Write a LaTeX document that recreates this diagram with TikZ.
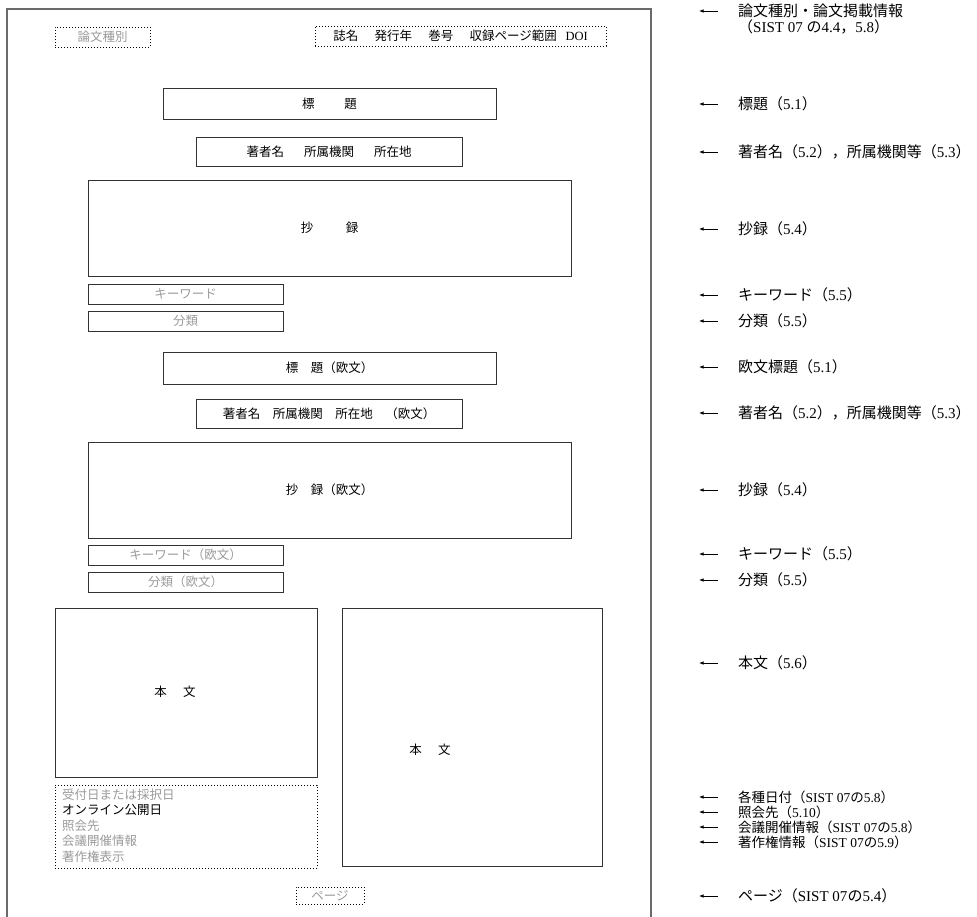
\documentclass[tikz,border=0pt]{standalone}
\usepackage{fontspec}
\setmainfont{Liberation Serif}
\newfontfamily\jp{Noto Sans CJK JP}
\usetikzlibrary{arrows.meta}
\newcommand\J[1]{{\jp #1}}
\definecolor{framec}{HTML}{6A6A6A}
\definecolor{boxc}{HTML}{333333}
\definecolor{graytxt}{HTML}{9A9A9A}
\tikzset{
  box/.style={draw=boxc, line width=0.9pt, inner sep=0pt, font=\fontsize{12.5}{14}\selectfont},
  dbox/.style={draw=black, dotted, line width=1pt, inner sep=0pt, font=\fontsize{12.5}{14}\selectfont},
  boxtext/.style={inner sep=0pt, font=\fontsize{12.5}{14}\selectfont},
  datetext/.style={anchor=west, inner sep=0pt, font=\fontsize{12.5}{14}\selectfont},
  lab/.style={anchor=west, inner sep=0pt, font=\fontsize{15}{15}\selectfont},
  smalllab/.style={lab, font=\fontsize{13.5}{14}\selectfont},
  arr/.style={-{Latex[length=4.5pt,width=3.5pt]}, line width=0.7pt},
  faint/.style={text=graytxt}
}
\begin{document}
\begin{tikzpicture}[x=1pt,y=-1pt]
\useasboundingbox (0,0) rectangle (977,916);
% page frame
\coordinate (fbl) at (7,918);
\coordinate (ftl) at (7,9);
\coordinate (ftr) at (651,9);
\coordinate (fbr) at (651,918);
\draw[framec, line width=1.3pt] (fbl) -- (ftl) -- (ftr) -- (fbr);

% boxes
\node[dbox, faint, minimum width=95pt, minimum height=20pt] (shubetsu) at (102.5,37) {\J{論文種別}};
\node[dbox, minimum width=291pt, minimum height=20pt] (doi) at (460.5,36) {\J{誌名\hspace{1.3em}発行年\hspace{1.3em}巻号\hspace{1.3em}収録ページ範囲}\hspace{0.7em}DOI};
\node[box, minimum width=333pt, minimum height=31pt] (title) at (329.5,103.5) {\J{標\hspace{2.4em}題}};
\node[box, minimum width=266pt, minimum height=29pt] (author) at (329,151.5) {\J{著者名\hspace{1.6em}所属機関\hspace{1.6em}所在地}};
\node[box, minimum width=483pt, minimum height=96pt] (abstract) at (329.5,228) {\J{抄\hspace{2.6em}録}};
\node[box, faint, minimum width=195pt, minimum height=20pt] (kw) at (185.5,294) {\J{キーワード}};
\node[box, faint, minimum width=195pt, minimum height=20pt] (cls) at (185.5,321) {\J{分類}};
\node[box, minimum width=333pt, minimum height=32pt] (etitle) at (329.5,368) {\J{標　題（欧文）}};
\node[box, minimum width=266pt, minimum height=29pt] (eauthor) at (329,413.5) {\J{著者名　所属機関　所在地　（欧文）}};
\node[box, minimum width=483pt, minimum height=96pt] (eabstract) at (329.5,490) {\J{抄　録（欧文）}};
\node[box, faint, minimum width=195pt, minimum height=20pt] (ekw) at (185.5,555) {\J{キーワード（欧文）}};
\node[box, faint, minimum width=195pt, minimum height=20pt] (ecls) at (185.5,582) {\J{分類（欧文）}};
\node[box, minimum width=262pt, minimum height=169pt] (body1) at (186,692.5) {};
\node[boxtext] (body1t) at (175,692) {\J{本\hspace{1.3em}文}};
\node[box, minimum width=260pt, minimum height=258pt] (body2) at (472,737) {};
\node[boxtext] (body2t) at (430,750) {\J{本\hspace{1.3em}文}};
\node[dbox, minimum width=262pt, minimum height=83pt] (dates) at (186,826.5) {};
\node[datetext, faint] (d1) at (62,795) {\J{受付日または採択日}};
\node[datetext] (d2) at (62,810) {\J{オンライン公開日}};
\node[datetext, faint] (d3) at (62,826) {\J{照会先}};
\node[datetext, faint] (d4) at (62,841) {\J{会議開催情報}};
\node[datetext, faint] (d5) at (62,857) {\J{著作権表示}};
\node[dbox, faint, minimum width=68pt, minimum height=17pt] (page) at (330,895.5) {\J{ページ}};

% right-hand labels
\node[lab] (l1) at (738,11) {\J{論文種別・論文掲載情報}};
\node[lab] (l1b) at (738,27) {\J{（}SIST 07 \J{の}4.4\J{，}5.8\J{）}};
\node[lab] (l2) at (738,104) {\J{標題（}5.1\J{）}};
\node[lab] (l3) at (738,152) {\J{著者名（}5.2\J{），所属機関等（}5.3\J{）}};
\node[lab] (l4) at (738,229) {\J{抄録（}5.4\J{）}};
\node[lab] (l5) at (738,295) {\J{キーワード（}5.5\J{）}};
\node[lab] (l6) at (738,321) {\J{分類（}5.5\J{）}};
\node[lab] (l7) at (738,367) {\J{欧文標題（}5.1\J{）}};
\node[lab] (l8) at (738,413) {\J{著者名（}5.2\J{），所属機関等（}5.3\J{）}};
\node[lab] (l9) at (738,490) {\J{抄録（}5.4\J{）}};
\node[lab] (l10) at (738,554) {\J{キーワード（}5.5\J{）}};
\node[lab] (l11) at (738,580) {\J{分類（}5.5\J{）}};
\node[lab] (l12) at (738,663) {\J{本文（}5.6\J{）}};
\node[smalllab] (l13) at (738,797) {\J{各種日付（}SIST 07\J{の}5.8\J{）}};
\node[smalllab] (l14) at (738,812) {\J{照会先（}5.10\J{）}};
\node[smalllab] (l15) at (738,827) {\J{会議開催情報（}SIST 07\J{の}5.8\J{）}};
\node[smalllab] (l16) at (738,842) {\J{著作権情報（}SIST 07\J{の}5.9\J{）}};
\node[lab] (l17) at (738,896) {\J{ページ（}SIST 07\J{の}5.4\J{）}};

\foreach \n in {l1,l2,l3,l4,l5,l6,l7,l8,l9,l10,l11,l12,l13,l14,l15,l16,l17}
  \draw[arr] ([xshift=-20pt]\n.west) -- ++(-19,0);
\end{tikzpicture}
\end{document}
